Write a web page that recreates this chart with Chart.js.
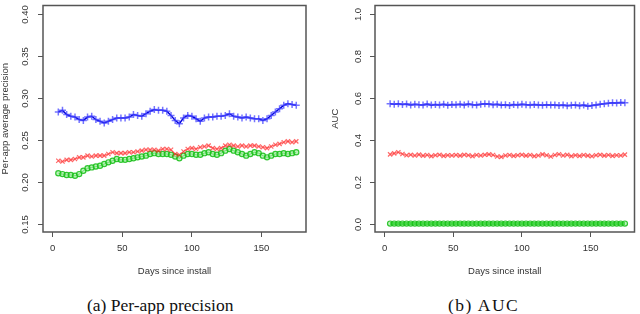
<!DOCTYPE html>
<html>
<head>
<meta charset="utf-8">
<script src="https://cdn.jsdelivr.net/npm/chart.js@4.4.1/dist/chart.umd.min.js"></script>
<style>
  html, body { margin: 0; padding: 0; background: #fff; }
  #wrap { position: relative; width: 640px; height: 314px; overflow: hidden; }
  .panel { position: absolute; top: 0; width: 320px; height: 285px; }
  .cap { position: absolute; top: 295px; font-family: "Liberation Serif", serif; font-size: 17.5px; color: #111; white-space: nowrap; }
</style>
</head>
<body>
<div id="wrap">
  <div class="panel" style="left:0"><canvas id="precChart" width="320" height="285"></canvas></div>
  <div class="panel" style="left:320px"><canvas id="aucChart" width="320" height="285"></canvas></div>
  <div class="cap" style="left:87px">(a) Per-app precision</div>
  <div class="cap" style="left:448px; letter-spacing:1.5px">(b) AUC</div>
</div>
<script>
// days since install (every 3rd day)
const days = [4,7,10,13,16,19,22,25,28,31,34,37,40,43,46,49,52,55,58,61,64,67,70,73,76,79,82,85,88,91,
  94,97,100,103,106,109,112,115,118,121,124,127,130,133,136,139,142,145,148,151,154,157,160,163,166,169,172,175];

// (a) per-app precision
const precBlue = [0.283,0.285,0.280,0.278,0.277,0.274,0.273,0.277,0.278,0.274,
  0.272,0.270,0.272,0.274,0.276,0.276,0.276,0.277,0.280,0.279,
  0.278,0.281,0.284,0.286,0.285,0.285,0.284,0.279,0.273,0.269,
  0.276,0.279,0.278,0.275,0.272,0.276,0.277,0.277,0.278,0.278,
  0.279,0.281,0.278,0.277,0.276,0.277,0.276,0.275,0.275,0.273,
  0.275,0.279,0.283,0.287,0.291,0.293,0.292,0.291];
const precRed = [0.225,0.224,0.226,0.226,0.227,0.229,0.229,0.231,0.230,0.231,
  0.231,0.231,0.233,0.235,0.234,0.234,0.234,0.235,0.235,0.236,
  0.237,0.238,0.238,0.238,0.237,0.239,0.239,0.238,0.233,0.232,
  0.236,0.239,0.240,0.239,0.241,0.242,0.243,0.240,0.239,0.240,
  0.243,0.244,0.243,0.242,0.243,0.242,0.243,0.243,0.242,0.241,
  0.240,0.242,0.244,0.245,0.247,0.248,0.247,0.248];
const precGreen = [0.210,0.209,0.208,0.208,0.207,0.209,0.213,0.216,0.217,0.218,
  0.219,0.221,0.223,0.225,0.227,0.226,0.226,0.227,0.228,0.229,
  0.230,0.231,0.233,0.234,0.233,0.233,0.233,0.232,0.230,0.228,
  0.231,0.233,0.233,0.232,0.232,0.234,0.235,0.233,0.232,0.234,
  0.237,0.239,0.237,0.235,0.233,0.231,0.233,0.235,0.234,0.231,
  0.229,0.231,0.233,0.233,0.234,0.233,0.234,0.235];

// (b) AUC
const aucBlue = [0.571,0.569,0.572,0.568,0.570,0.566,0.569,0.567,0.566,0.570,
  0.565,0.568,0.566,0.569,0.564,0.568,0.567,0.569,0.566,0.570,
  0.567,0.566,0.569,0.572,0.570,0.567,0.569,0.565,0.567,0.563,
  0.568,0.566,0.569,0.567,0.565,0.568,0.566,0.564,0.567,0.565,
  0.566,0.563,0.565,0.562,0.564,0.566,0.562,0.565,0.560,0.563,
  0.566,0.569,0.571,0.574,0.576,0.575,0.577,0.576];
const aucRed = [0.330,0.335,0.340,0.332,0.326,0.328,0.325,0.329,0.324,0.327,
  0.322,0.326,0.328,0.323,0.326,0.325,0.327,0.324,0.328,0.326,
  0.322,0.327,0.325,0.328,0.330,0.327,0.320,0.318,0.325,0.327,
  0.323,0.326,0.328,0.324,0.327,0.322,0.325,0.330,0.326,0.320,
  0.327,0.331,0.325,0.328,0.322,0.326,0.323,0.327,0.324,0.321,
  0.326,0.328,0.324,0.327,0.323,0.326,0.325,0.329];
const aucGreen = [0,0,0,0,0,0,0,0,0,0, 0,0,0,0,0,0,0,0,0,0, 0,0,0,0,0,0,0,0,0,0,
  0,0,0,0,0,0,0,0,0,0, 0,0,0,0,0,0,0,0,0,0, 0,0,0,0,0,0,0,0];

const xTicks = [0, 50, 100, 150];
const precTicks = [0.15, 0.20, 0.25, 0.30, 0.35, 0.40];
const precTickLabels = ['0.15', '0.20', '0.25', '0.30', '0.35', '0.40'];
const aucTicks = [0, 0.2, 0.4, 0.6, 0.8, 1.0];
const aucTickLabels = ['0.0', '0.2', '0.4', '0.6', '0.8', '1.0'];

const FONT = '"Liberation Sans", Arial, sans-serif';
const TXT = '#333';

function pts(vals) {
  return vals.map((v, i) => ({ x: days[i], y: v }));
}

// R-style box + rotated y tick labels
function rFrame(tickLabels, labelX) {
  return {
    id: 'rFrame',
    afterDraw(chart) {
      const ctx = chart.ctx;
      const a = chart.chartArea;
      const ys = chart.scales.y;
      ctx.save();
      ctx.strokeStyle = '#555';
      ctx.lineWidth = 1.5;
      ctx.strokeRect(a.left, a.top, a.right - a.left, a.bottom - a.top);
      ctx.lineWidth = 1;
      ctx.fillStyle = TXT;
      ctx.font = '9.5px ' + FONT;
      ctx.textAlign = 'center';
      ctx.textBaseline = 'middle';
      ys.ticks.forEach((t, i) => {
        const y = Math.round(ys.getPixelForValue(t.value)) + 0.5;
        ctx.beginPath();
        ctx.moveTo(a.left - 5, y);
        ctx.lineTo(a.left, y);
        ctx.stroke();
        ctx.save();
        ctx.translate(labelX, y);
        ctx.rotate(-Math.PI / 2);
        ctx.fillText(tickLabels[i], 0, 0);
        ctx.restore();
      });
      ctx.restore();
    }
  };
}

function makeChart(id, o) {
  const ctx = document.getElementById(id).getContext('2d');
  return new Chart(ctx, {
    type: 'line',
    data: {
      datasets: [
        {
          data: pts(o.blue),
          borderColor: '#0000dd',
          borderWidth: 1.5,
          pointStyle: 'cross',
          pointRadius: 3.5,
          pointBorderWidth: 1.5,
          pointBorderColor: 'rgba(70,70,255,0.75)',
          tension: 0
        },
        {
          data: pts(o.red),
          borderColor: 'rgba(255,0,0,0.5)',
          borderWidth: 1,
          pointStyle: 'crossRot',
          pointRadius: 3,
          pointBorderWidth: 1.2,
          pointBorderColor: 'rgba(255,40,40,0.7)',
          tension: 0
        },
        {
          data: pts(o.green),
          borderColor: o.greenLine,
          borderWidth: o.greenWidth,
          pointStyle: 'circle',
          pointRadius: 2.6,
          pointBorderWidth: 1.2,
          pointBorderColor: 'rgba(20,190,20,0.85)',
          pointBackgroundColor: 'rgba(120,230,120,0.5)',
          tension: 0
        }
      ]
    },
    options: {
      responsive: false,
      animation: false,
      events: [],
      layout: { padding: { top: 1, right: o.padRight, left: 0, bottom: 0 } },
      plugins: { legend: { display: false }, tooltip: { enabled: false } },
      scales: {
        x: {
          type: 'linear',
          min: -7,
          max: 182,
          afterBuildTicks: s => { s.ticks = xTicks.map(v => ({ value: v })); },
          afterFit: s => { s.height = 53; },
          grid: { display: true, drawOnChartArea: false, tickLength: 5, color: '#555', lineWidth: 1 },
          border: { display: false },
          ticks: { padding: 6, color: TXT, font: { size: 9.5, family: FONT }, maxRotation: 0 },
          title: { display: true, text: 'Days since install', color: TXT, font: { size: 9.5, family: FONT }, padding: { top: 0, bottom: 8 } }
        },
        y: {
          type: 'linear',
          min: o.yMin,
          max: o.yMax,
          afterBuildTicks: s => { s.ticks = o.yTicks.map(v => ({ value: v })); },
          afterFit: s => { s.width = o.yWidth; },
          grid: { display: false },
          border: { display: false },
          ticks: { display: false },
          title: { display: true, text: o.yTitle, color: TXT, font: { size: 9.5, family: FONT }, padding: { top: o.titlePad, bottom: 0 } }
        }
      }
    },
    plugins: [rFrame(o.yTickLabels, o.labelX)]
  });
}

window.onload = function() {
  makeChart('precChart', {
    blue: precBlue, red: precRed, green: precGreen,
    greenLine: 'rgba(20,190,20,0.6)', greenWidth: 1,
    yMin: 0.14, yMax: 0.41, yTicks: precTicks, yTickLabels: precTickLabels,
    yTitle: 'Per-app average precision', yWidth: 43, padRight: 14, titlePad: 0, labelX: 25
  });
  makeChart('aucChart', {
    blue: aucBlue, red: aucRed, green: aucGreen,
    greenLine: '#11cc11', greenWidth: 3,
    yMin: -0.04, yMax: 1.04, yTicks: aucTicks, yTickLabels: aucTickLabels,
    yTitle: 'AUC', yWidth: 55, padRight: 1, titlePad: 10, labelX: 38
  });
};
</script>
</body>
</html>
